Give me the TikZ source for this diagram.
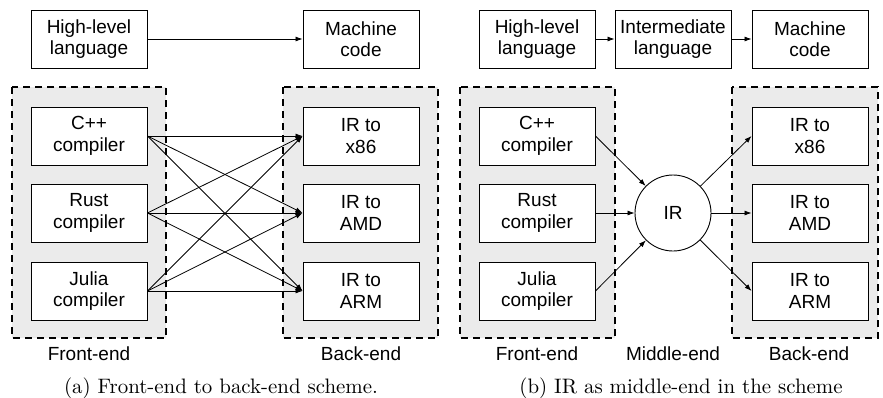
\documentclass[tikz,border=0pt]{standalone}
\usepackage{fontspec}
\newfontfamily\diagfont{Liberation Sans}
\usetikzlibrary{arrows.meta}

\begin{document}
\begin{tikzpicture}[x=1pt,y=-1pt,
    box/.style={draw, line width=0.9pt, fill=white, minimum width=116pt,
      minimum height=58pt, inner sep=0pt, align=center,
      font=\diagfont\fontsize{19}{21.5}\selectfont},
    irnode/.style={draw, circle, line width=0.9pt, fill=white, minimum size=76pt,
      inner sep=0pt, font=\diagfont\fontsize{19}{21.5}\selectfont},
    group/.style={fill=black!8, draw, line width=1.6pt, dash pattern=on 7pt off 5pt},
    tag/.style={anchor=base, font=\diagfont\fontsize{19}{21.5}\selectfont},
    subcap/.style={anchor=base, scale=2.09, font=\fontsize{10}{12}\selectfont},
    conn/.style={-{Latex[length=7pt,width=5pt]}, line width=0.8pt}]

  \useasboundingbox (0,0) rectangle (883,397);

  % (a) front-end direct naar back-end
  \node[box] (hla) at (89,39) {High-level\\language};
  \node[box] (mca) at (361,39) {Machine\\code};
  \draw[conn] (hla) -- (mca);

  \draw[group] (12,87) rectangle (166,338);
  \draw[group] (283,87) rectangle (438,338);

  \node[box] (cppa)   at (89,136) {C++\\compiler};
  \node[box] (rusta)  at (89,213) {Rust\\compiler};
  \node[box] (juliaa) at (89,291) {Julia\\compiler};

  \node[box] (x86a) at (361,136) {IR to\\x86};
  \node[box] (amda) at (361,213) {IR to\\AMD};
  \node[box] (arma) at (361,291) {IR to\\ARM};

  % elke compiler naar elk doel
  \foreach \s in {cppa,rusta,juliaa} {
      \foreach \t in {x86a,amda,arma} {
          \draw[conn] (\s.east) -- (\t.west);
        }
    }

  \node[tag] (fea) at (89,360) {Front-end};
  \node[tag] (bea) at (361,360) {Back-end};
  \node[subcap] (capa) at (221,393) {(a) Front-end to back-end scheme.};

  % (b) IR als middle-end
  \node[box] (hlb) at (537,39) {High-level\\language};
  \node[box] (ilb) at (673,39) {Intermediate\\language};
  \node[box] (mcb) at (810,39) {Machine\\code};
  \draw[conn] (hlb) -- (ilb);
  \draw[conn] (ilb) -- (mcb);

  \draw[group] (460,87) rectangle (615,338);
  \draw[group] (732,87) rectangle (878,338);

  \node[box] (cppb)   at (537,136) {C++\\compiler};
  \node[box] (rustb)  at (537,213) {Rust\\compiler};
  \node[box] (juliab) at (537,291) {Julia\\compiler};

  \node[irnode] (ir) at (673,213) {IR};

  \node[box] (x86b) at (810,136) {IR to\\x86};
  \node[box] (amdb) at (810,213) {IR to\\AMD};
  \node[box] (armb) at (810,291) {IR to\\ARM};

  \foreach \s in {cppb,rustb,juliab} {
      \draw[conn] (\s.east) -- (ir);
    }
  \foreach \t in {x86b,amdb,armb} {
      \draw[conn] (ir) -- (\t.west);
    }

  \node[tag] (feb) at (537,360) {Front-end};
  \node[tag] (meb) at (673,360) {Middle-end};
  \node[tag] (beb) at (809,360) {Back-end};
  \node[subcap] (capb) at (681,393) {(b) IR as middle-end in the scheme};
\end{tikzpicture}
\end{document}
